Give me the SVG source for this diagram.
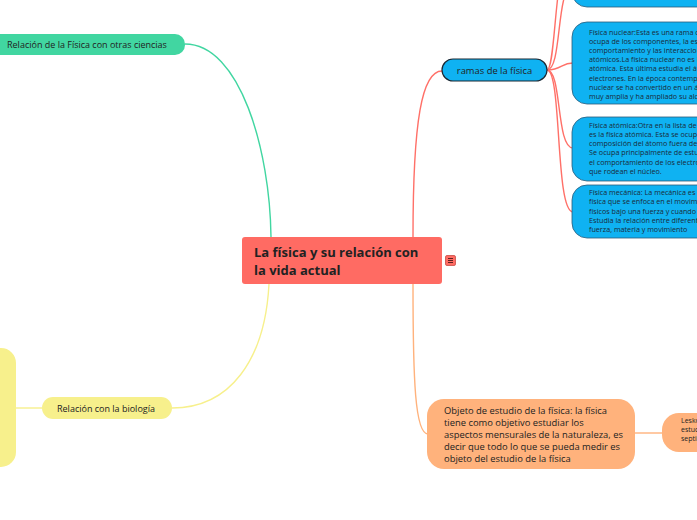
<svg xmlns="http://www.w3.org/2000/svg" width="697" height="520" viewBox="0 0 697 520">
<style>
text{font-family:"Open Sans","Noto Sans",sans-serif;fill:#222}
.c{fill:none;stroke-width:1.4}
.blue{fill:#0fb2f2;stroke:#2c5a78;stroke-width:0.8}
.bt{font-size:7.2px;fill:#1b2a38}
</style>
<rect width="697" height="520" fill="#ffffff"/>
<g id="connectors">
<path class="c" stroke="#41d6a1" d="M271,237 C270,150 240,44 185,44"/>
<path class="c" stroke="#ff7068" d="M413,237 C413,120 422,71 442,71"/>
<path class="c" stroke="#f7f08c" d="M269,284 C265,360 230,408 172,408"/>
<path class="c" stroke="#ffb27c" d="M413,284 C413,380 415,434 428,434"/>
<path class="c" stroke="#f7f08c" d="M16,408 L42,408"/>
<path class="c" stroke="#ffb27c" d="M635,433 L662,433"/>
<path class="c" stroke="#ff7068" stroke-width="1" d="M547,70 C562,70 556,-10 572,-14"/>
<path class="c" stroke="#ff7068" stroke-width="1" d="M547,70 C556,70 554,-40 572,-60"/>
<path class="c" stroke="#ff7068" stroke-width="1" d="M547,70 C562,70 561,63 573,63"/>
<path class="c" stroke="#ff7068" stroke-width="1" d="M547,70 C562,70 556,148 573,148"/>
<path class="c" stroke="#ff7068" stroke-width="1" d="M547,70 C562,70 555,212 573,212"/>
</g>
<g id="central">
<rect x="242" y="237" width="200" height="47" rx="3" fill="#ff6b63"/>
<text x="254" y="257" font-size="13" font-weight="bold">La física y su relación con</text>
<text x="254" y="275" font-size="13" font-weight="bold">la vida actual</text>
<rect x="445.5" y="255.5" width="10" height="10" rx="1.5" fill="#ff6b63" stroke="#c94a44" stroke-width="0.8"/>
<path d="M448,258.5 h5 M448,260.5 h5 M448,262.5 h5" stroke="#4a1a18" stroke-width="0.9"/>
</g>
<g id="otras-ciencias">
<rect x="-20" y="34" width="205" height="21" rx="10" fill="#41d6a1"/>
<text x="7" y="48" font-size="9">Relación de la Física con otras ciencias</text>
</g>
<g id="biologia">
<rect x="42" y="397" width="130" height="22" rx="11" fill="#f7f08c"/>
<text x="57" y="411.5" font-size="9">Relación con la biología</text>
</g>
<g id="biologia-detalle">
<rect x="-40" y="348" width="56" height="119" rx="15" fill="#f7f08c"/>
</g>
<g id="ramas">
<rect x="442" y="59" width="105" height="22" rx="11" fill="#0fb2f2" stroke="#1c2833" stroke-width="1.2"/>
<text x="494.5" y="73.5" font-size="9.4" text-anchor="middle">ramas de la física</text>
</g>
<g id="rama-superior">
<rect class="blue" x="572" y="-40" width="160" height="47" rx="15"/>
</g>
<g id="nuclear">
<rect class="blue" x="572" y="22" width="160" height="82" rx="15"/>
<text class="bt" x="589" y="34.5">Física nuclear:Esta es una rama de la</text>
<text class="bt" x="589" y="43.7">ocupa de los componentes, la estructura</text>
<text class="bt" x="589" y="52.9">comportamiento y las interacciones</text>
<text class="bt" x="589" y="62.1">atómicos.La física nuclear no es la</text>
<text class="bt" x="589" y="71.3">atómica. Esta última estudia el átomo</text>
<text class="bt" x="589" y="80.5">electrones. En la época contemporánea</text>
<text class="bt" x="589" y="89.7">nuclear se ha convertido en un área</text>
<text class="bt" x="589" y="98.9">muy amplia y ha ampliado su alcance</text>
</g>
<g id="atomica">
<rect class="blue" x="572" y="117" width="160" height="64" rx="15"/>
<text class="bt" x="589" y="127.5">Física atómica:Otra en la lista de</text>
<text class="bt" x="589" y="136.8">es la física atómica. Esta se ocupa</text>
<text class="bt" x="589" y="146.1">composición del átomo fuera del</text>
<text class="bt" x="589" y="155.4">Se ocupa principalmente de estudiar</text>
<text class="bt" x="589" y="164.7">el comportamiento de los electrones</text>
<text class="bt" x="589" y="174">que rodean el núcleo.</text>
</g>
<g id="mecanica">
<rect class="blue" x="572" y="185" width="160" height="53" rx="15"/>
<text class="bt" x="589" y="195">Física mecánica: La mecánica es</text>
<text class="bt" x="589" y="204.3">física que se enfoca en el movimiento</text>
<text class="bt" x="589" y="213.6">físicos bajo una fuerza y cuando</text>
<text class="bt" x="589" y="222.9">Estudia la relación entre diferentes</text>
<text class="bt" x="589" y="232.2">fuerza, materia y movimiento</text>
</g>
<g id="objeto">
<rect x="427" y="399" width="208" height="70" rx="17" fill="#ffb27c"/>
<text x="444" y="414" font-size="9.4">Objeto de estudio de la física: la física</text>
<text x="444" y="425.9" font-size="9.4">tiene como objetivo estudiar los</text>
<text x="444" y="437.8" font-size="9.4">aspectos mensurales de la naturaleza, es</text>
<text x="444" y="449.7" font-size="9.4">decir que todo lo que se pueda medir es</text>
<text x="444" y="461.6" font-size="9.4">objeto del estudio de la física</text>
</g>
<g id="lesko">
<rect x="662" y="413" width="70" height="39" rx="17" fill="#ffb27c"/>
<text x="681" y="423" font-size="7">Lesko</text>
<text x="681" y="432" font-size="7">estud</text>
<text x="681" y="441" font-size="7">septi</text>
</g>
</svg>
